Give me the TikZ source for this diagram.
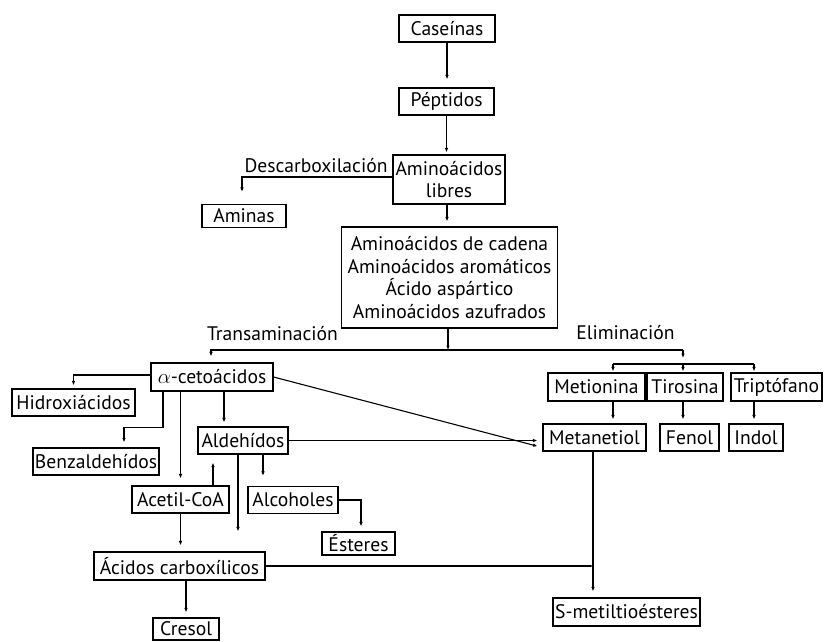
\documentclass[tikz,border=0pt]{standalone}
\usepackage{fontspec}
\setmainfont{PT Sans}
\usetikzlibrary{arrows.meta,calc}
\begin{document}
\begin{tikzpicture}[x=1pt,y=-1pt,
  every node/.style={font=\fontsize{19.6}{22.7}\selectfont},
  box/.style={draw,line width=1.2pt,inner sep=0pt,align=center},
  lbl/.style={inner sep=0pt},
  conn/.style={line width=1.1pt},
  arr/.style={conn,-{Latex[length=4.5pt,width=3.6pt]}}]
\useasboundingbox (0,0) rectangle (824,641);
% nodes
\node[box,minimum width=96,minimum height=27] (cas) at (447,28.5) {Caseínas};
\node[box,minimum width=95,minimum height=27] (pep) at (446.5,101.5) {Péptidos};
\node[box,minimum width=112,minimum height=49] (lib) at (449,179.5) {Aminoácidos\\libres};
\node[box,minimum width=84,minimum height=23] (ami) at (244,216) {Aminas};
\node[box,minimum width=216,minimum height=101] (big) at (449.5,277.5) {Aminoácidos de cadena\\Aminoácidos aromáticos\\Ácido aspártico\\Aminoácidos azufrados};
\node[box,minimum width=122,minimum height=28] (acet) at (212,377) {$\alpha$-cetoácidos};
\node[box,minimum width=123,minimum height=27] (hid) at (73.5,402.5) {Hidroxiácidos};
\node[box,minimum width=126,minimum height=27] (ben) at (96,461.5) {Benzaldehídos};
\node[box,minimum width=90,minimum height=27] (ald) at (243,440.5) {Aldehídos};
\node[box,minimum width=97,minimum height=27] (acoa) at (180.5,499.5) {Acetil-CoA};
\node[box,minimum width=90,minimum height=27] (alc) at (293,500) {Alcoholes};
\node[box,minimum width=73,minimum height=23] (est) at (358.5,543.5) {Ésteres};
\node[box,minimum width=171,minimum height=28] (acb) at (179.5,566) {Ácidos carboxílicos};
\node[box,minimum width=66,minimum height=22] (cre) at (186,629) {Cresol};
\node[box,minimum width=97,minimum height=28] (met) at (596.5,387) {Metionina};
\node[box,minimum width=76,minimum height=28] (tir) at (685,387) {Tirosina};
\node[box,minimum width=91,minimum height=28] (tri) at (776.5,387) {Triptófano};
\node[box,minimum width=103,minimum height=27] (mtl) at (594.5,437.5) {Metanetiol};
\node[box,minimum width=59,minimum height=27] (fen) at (689.5,437.5) {Fenol};
\node[box,minimum width=54,minimum height=27] (ind) at (756,437.5) {Indol};
\node[box,minimum width=147,minimum height=28] (sme) at (626.5,612) {S-metiltioésteres};
% labels
\node[lbl] (ldes) at (316,166) {Descarboxilación};
\node[lbl] (ltra) at (272.5,334) {Transaminación};
\node[lbl] (leli) at (625.5,333) {Eliminación};
% junction coordinates
\coordinate (jT) at (448,350);
\coordinate (jL) at (211,350);
\coordinate (jR) at (683,350);
\coordinate (jE) at (683,358);
\coordinate (bL) at (613,364);
\coordinate (bM) at (683,364);
\coordinate (bR) at (754,364);
% connectors
\draw[arr,shorten >=8] (cas.south) -- (cas.south |- pep.north);
\draw[arr,shorten >=2] (pep.south) -- (pep.south |- lib.north);
\draw[arr,shorten >=12] ([yshift=2.5]lib.west) -| ([xshift=-2]ami.north);
\draw[arr,shorten >=5] ([xshift=-2]lib.south) -- ([xshift=-2]lib.south |- big.north);
\draw[arr] (big.south -| jT) -- (jT);
\draw[arr,shorten >=6] (jR) -- (jL) -- (jL |- acet.north);
\draw[arr] (jR) -- (jE);
\draw[conn] (bL) -- (bR);
\draw[arr,shorten >=1] (bL) -- (bL |- met.north);
\draw[arr,shorten >=1] (bM) -- (bM |- tir.north);
\draw[arr,shorten >=1] (bR) -- (bR |- tri.north);
\draw[arr,shorten >=3] ([yshift=2]acet.west) -| (hid.north);
\draw[arr,shorten >=5] ([xshift=-49]acet.south) -- ++(0,36) -| ([xshift=28]ben.north);
\draw[arr,shorten >=7] (acet.south -| acoa.north) -- (acoa.north);
\draw[arr,shorten >=4] ([xshift=12]acet.south) -- ([xshift=12]acet.south |- ald.north);
\draw[arr,shorten >=5] (acet.east) -- ([yshift=-10]mtl.west);
\draw[arr,shorten >=5] (ald.east) -- (ald.east -| mtl.west);
\draw[arr,shorten >=8] ([xshift=32.5]acoa.north) -- ([xshift=32.5]acoa.north |- ald.south);
\draw[arr,shorten >=20] ([xshift=-5]ald.south) -- ([xshift=-5]ald.south |- acb.north);
\draw[arr,shorten >=10] ([xshift=20]ald.south) -- ([xshift=20]ald.south |- alc.north);
\draw[arr,shorten >=5] (alc.east) -| ([xshift=2.5]est.north);
\draw[arr,shorten >=6] (acoa.south) -- (acoa.south |- acb.north);
\draw[arr,shorten >=5] (acb.south -| cre.north) -- (cre.north);
\draw[conn,-{Latex[length=3pt,width=2.6pt]}] (acb.east) -- ([xshift=-1.5]acb.east -| mtl.south);
\draw[arr,shorten >=6] ([xshift=-1.5]mtl.south) -- ([xshift=-1.5]mtl.south |- sme.north);
\draw[arr,shorten >=4] ([xshift=16.5]met.south) -- ([xshift=16.5]met.south |- mtl.north);
\draw[arr,shorten >=4] ([xshift=-2]tir.south) -- ([xshift=-2]tir.south |- fen.north);
\draw[arr,shorten >=4] ([xshift=-22.5]tri.south) -- ([xshift=-22.5]tri.south |- ind.north);
\end{tikzpicture}
\end{document}
